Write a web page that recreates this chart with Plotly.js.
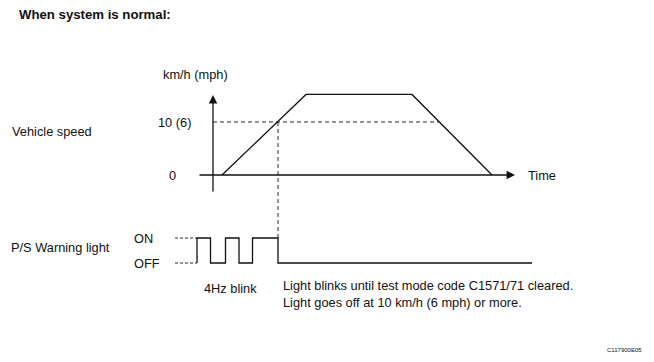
<!DOCTYPE html>
<html>
<head>
<meta charset="utf-8">
<script src="https://cdn.plot.ly/plotly-3.0.1.min.js"></script>
<style>html,body{margin:0;padding:0;background:#fff;}#chart{width:654px;height:362px;}</style>
</head>
<body>
<div id="chart"></div>
<script>
// ---- data (time in arbitrary units, speed in km/h-scale units) ----
var speedTimes = [0.9, 9.3, 19.9, 27.9];
var speedValues = [0, 15.2, 15.2, 0];
var thresholdSpeed = 10;
var speedTickVals = [0, 10];
var speedTickText = ['0', '10 (6)'];

var blinkTimes = [-1.6, -1.6, -0.25, 1.25, 2.6, 3.95, 6.5, 31.9];
var blinkStates = [0, 1, 0, 1, 0, 1, 0, 0];
var lightTickVals = [0, 1];
var lightTickText = ['OFF', 'ON'];
var lightGuideStart = -3.8;

var speedAxisStart = -3.4, speedAxisEnd = 15.1;
var timeAxisStart = -1.5, timeAxisEnd = 30.2;

var titleText = '<b>When system is normal:</b>';
var unitText = 'km/h (mph)';
var timeText = 'Time';
var speedLabel = 'Vehicle speed';
var lightLabel = 'P/S Warning light';
var blinkLabel = '4Hz blink';
var noteText = 'Light blinks until test mode code C1571/71 cleared.<br>Light goes off at 10 km/h (6 mph) or more.';
var codeText = 'C117900E05';

// ---- ranges ----
var xRange = [-21.3, 44.1];
var yRange = [-35.28, 33.02];
var y2Range = [-3.96, 10.52];

function interpCross(x0, y0, x1, y1, v) { return x0 + (v - y0) / (y1 - y0) * (x1 - x0); }
var riseCross = interpCross(speedTimes[0], speedValues[0], speedTimes[1], speedValues[1], thresholdSpeed);
var fallCross = interpCross(speedTimes[2], speedValues[2], speedTimes[3], speedValues[3], thresholdSpeed);
var lightOffTime = blinkTimes[blinkTimes.length - 2];
function lightToSpeed(s) {
  var f = (s - y2Range[0]) / (y2Range[1] - y2Range[0]);
  return yRange[0] + f * (yRange[1] - yRange[0]);
}

var FONT = 'Liberation Sans, Arial, sans-serif';
var INK = '#111';
var FS = 12.8;

var traces = [
  { x: speedTimes, y: speedValues, mode: 'lines', line: { color: INK, width: 1.3 }, hoverinfo: 'skip' },
  { x: blinkTimes, y: blinkStates, yaxis: 'y2', mode: 'lines', line: { color: INK, width: 1.3, shape: 'hv' }, hoverinfo: 'skip' }
];

var shapes = [
  { type: 'line', xref: 'x', yref: 'y', x0: 0, x1: fallCross, y0: thresholdSpeed, y1: thresholdSpeed, line: { color: INK, width: 0.9, dash: '4px,3px' } },
  { type: 'line', xref: 'x', yref: 'y', x0: lightOffTime, x1: lightOffTime, y0: thresholdSpeed, y1: lightToSpeed(1), line: { color: INK, width: 0.9, dash: '4px,3px' } },
  { type: 'line', xref: 'x', yref: 'y2', x0: lightGuideStart, x1: blinkTimes[0], y0: 1, y1: 1, line: { color: INK, width: 0.9, dash: '3px,2px' } },
  { type: 'line', xref: 'x', yref: 'y2', x0: lightGuideStart, x1: blinkTimes[0], y0: 0, y1: 0, line: { color: INK, width: 0.9, dash: '3px,2px' } }
];

function px(x) { return x / 654; }
function py(y) { return 1 - y / 362; }
function label(text, x, y, xanchor, size) {
  return { text: text, xref: 'paper', yref: 'paper', x: px(x), y: py(y), xanchor: xanchor || 'left', yanchor: 'middle', showarrow: false, align: 'left', font: { family: FONT, size: size || FS, color: INK } };
}

var annotations = [
  // axis arrows
  { x: 0, y: speedAxisEnd, ax: 0, ay: speedAxisStart, xref: 'x', yref: 'y', axref: 'x', ayref: 'y', text: '', showarrow: true, arrowhead: 2, arrowsize: 1.3, arrowwidth: 1.3, arrowcolor: INK, standoff: 0 },
  { x: timeAxisEnd, y: 0, ax: timeAxisStart, ay: 0, xref: 'x', yref: 'y', axref: 'x', ayref: 'y', text: '', showarrow: true, arrowhead: 2, arrowsize: 1.3, arrowwidth: 1.3, arrowcolor: INK, standoff: 0 },
  label(titleText, 17, 15, 'left', 13.2),
  label(unitText, 195, 75, 'center'),
  label(speedLabel, 10, 131, 'left'),
  label(lightLabel, 9, 247, 'left'),
  label(blinkLabel, 202, 288, 'left'),
  label(noteText, 281, 294, 'left'),
  label(codeText, 605, 350, 'left', 6),
  { text: timeText, xref: 'paper', yref: 'y', x: px(526), y: 0, xanchor: 'left', yanchor: 'middle', showarrow: false, font: { family: FONT, size: FS, color: INK } }
];
for (var i = 0; i < speedTickVals.length; i++) {
  annotations.push({ text: speedTickText[i], xref: 'paper', yref: 'y', x: px(i === 0 ? 178 : 193), y: speedTickVals[i], xanchor: 'right', yanchor: 'middle', showarrow: false, font: { family: FONT, size: FS, color: INK } });
}
for (var j = 0; j < lightTickVals.length; j++) {
  annotations.push({ text: lightTickText[j], xref: 'paper', yref: 'y2', x: px(132), y: lightTickVals[j], xanchor: 'left', yanchor: 'middle', showarrow: false, font: { family: FONT, size: FS, color: INK } });
}

var layout = {
  width: 654, height: 362,
  margin: { l: 0, r: 0, t: 0, b: 0, pad: 0 },
  paper_bgcolor: '#fff', plot_bgcolor: '#fff',
  showlegend: false,
  xaxis: { range: xRange, visible: false, fixedrange: true },
  yaxis: { range: yRange, visible: false, fixedrange: true },
  yaxis2: { range: y2Range, visible: false, overlaying: 'y', fixedrange: true },
  shapes: shapes,
  annotations: annotations
};

Plotly.newPlot('chart', traces, layout, { displayModeBar: false, staticPlot: true });
</script>
</body>
</html>
